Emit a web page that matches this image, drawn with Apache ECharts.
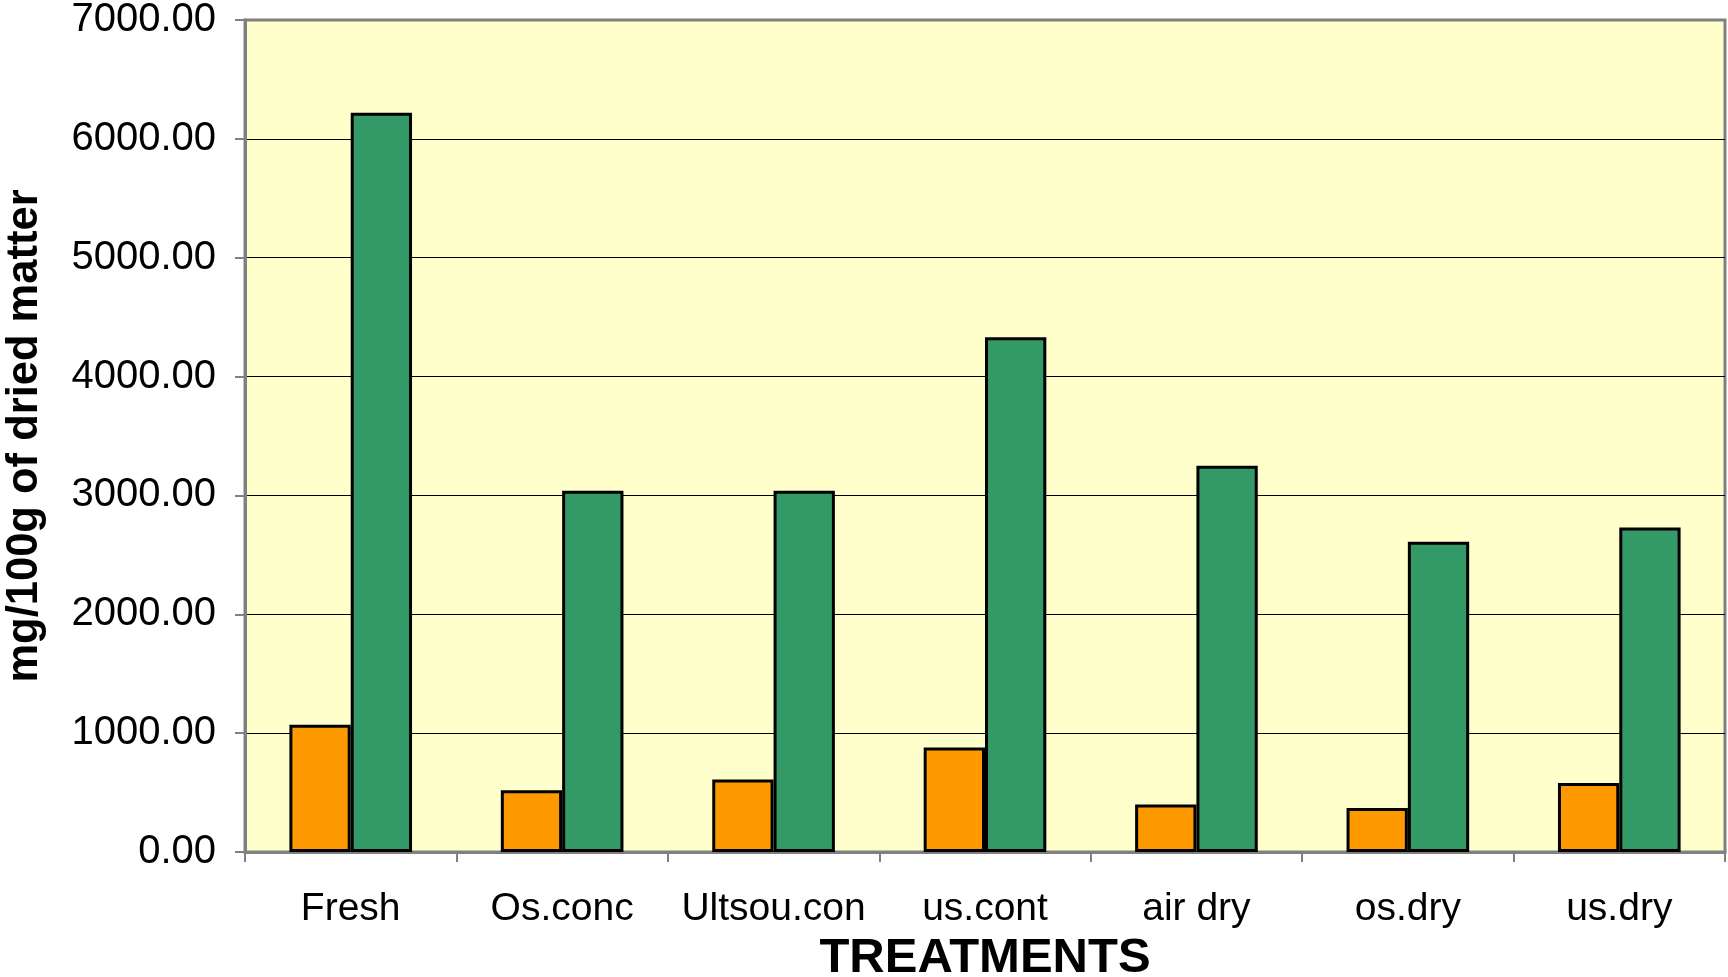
<!DOCTYPE html>
<html>
<head>
<meta charset="utf-8">
<title>Treatments</title>
<script src="https://cdn.jsdelivr.net/npm/echarts@6/dist/echarts.min.js"></script>
<style>
  html, body { margin: 0; padding: 0; background: #ffffff; }
  #chart { width: 1728px; height: 977px; }
</style>
</head>
<body>
<div id="chart"></div>
<script>
// Treatments along the x axis
var categories = ['Fresh', 'Os.conc', 'Ultsou.con', 'us.cont', 'air dry', 'os.dry', 'us.dry'];

// Two measured series, mg/100g of dried matter
var orangeValues = [1070, 520, 610, 880, 400, 370, 580];
var greenValues = [6220, 3040, 3040, 4330, 3250, 2610, 2730];

// Value axis range and step
var yMin = 0;
var yMax = 7000;
var yStep = 1000;

var FONT = '"Liberation Sans", Arial, sans-serif';

var chart = echarts.init(document.getElementById('chart'), null, { renderer: 'canvas' });

chart.setOption({
  animation: false,
  backgroundColor: '#ffffff',
  grid: {
    left: 245,
    right: 3,
    top: 20,
    bottom: 125,
    outerBoundsMode: 'none',
    containLabel: false,
    show: true,
    backgroundColor: '#FFFFCC',
    borderColor: '#808080',
    borderWidth: 3
  },
  xAxis: {
    type: 'category',
    data: categories,
    name: 'TREATMENTS',
    nameLocation: 'middle',
    nameGap: 78,
    nameTextStyle: {
      fontFamily: FONT,
      fontSize: 49,
      fontWeight: 'bold',
      color: '#000',
      lineHeight: 49
    },
    axisLine: { show: true, lineStyle: { color: '#808080', width: 3 } },
    axisTick: { show: true, interval: 0, length: 10, lineStyle: { color: '#808080', width: 2 } },
    axisLabel: {
      interval: 0,
      fontFamily: FONT,
      fontSize: 39,
      color: '#000',
      margin: 38,
      lineHeight: 39
    },
    splitLine: { show: false }
  },
  yAxis: {
    type: 'value',
    min: yMin,
    max: yMax,
    interval: yStep,
    name: 'mg/100g of dried matter',
    nameLocation: 'middle',
    nameGap: 198,
    nameRotate: 90,
    nameTextStyle: {
      fontFamily: FONT,
      fontSize: 43.5,
      fontWeight: 'bold',
      color: '#000',
      lineHeight: 44
    },
    axisLine: { show: true, lineStyle: { color: '#808080', width: 3 } },
    axisTick: { show: true, length: 10, lineStyle: { color: '#808080', width: 2 } },
    axisLabel: {
      fontFamily: FONT,
      fontSize: 40,
      color: '#000',
      margin: 29,
      formatter: function (v) { return v.toFixed(2); }
    },
    splitLine: {
      show: true,
      showMaxLine: false,
      lineStyle: { color: '#000', width: 1 }
    }
  },
  series: [
    {
      type: 'bar',
      data: orangeValues,
      barGap: '0%',
      barCategoryGap: '42%',
      itemStyle: { color: '#FF9900', borderColor: '#000', borderWidth: 3 }
    },
    {
      type: 'bar',
      data: greenValues,
      barGap: '0%',
      barCategoryGap: '42%',
      itemStyle: { color: '#339966', borderColor: '#000', borderWidth: 3 }
    }
  ]
});
</script>
</body>
</html>
